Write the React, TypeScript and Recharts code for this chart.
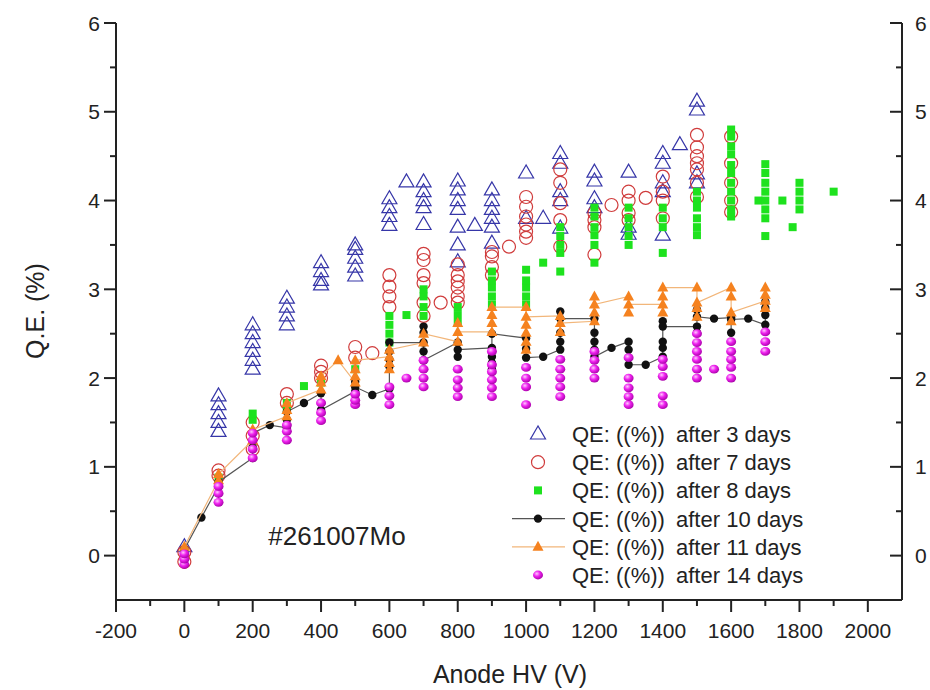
import { ScatterChart, Scatter, XAxis, YAxis, Legend } from 'recharts';

type Pt = [number, number];

// Anode HV (V), Q.E. (%); order inside a stack matters for the joined series
const days3: Pt[] = [
  [0, 0.1],
  [100, 1.4], [100, 1.5], [100, 1.6], [100, 1.7], [100, 1.8],
  [200, 2.1], [200, 2.2], [200, 2.3], [200, 2.4], [200, 2.5], [200, 2.6],
  [300, 2.6], [300, 2.7], [300, 2.8], [300, 2.9],
  [400, 3.05], [400, 3.1], [400, 3.2], [400, 3.3],
  [500, 3.15], [500, 3.25], [500, 3.35], [500, 3.45], [500, 3.5],
  [600, 3.72], [600, 3.82], [600, 3.92], [600, 4.02],
  [650, 4.21],
  [700, 3.73], [700, 3.92], [700, 4.0], [700, 4.1], [700, 4.21],
  [800, 3.31], [800, 3.5], [800, 3.7], [800, 3.9], [800, 4.0], [800, 4.12], [800, 4.22],
  [850, 3.72],
  [900, 3.52], [900, 3.7], [900, 3.8], [900, 3.9], [900, 4.0], [900, 4.12],
  [1000, 3.8], [1000, 4.31],
  [1050, 3.8],
  [1100, 3.69], [1100, 4.0], [1100, 4.1], [1100, 4.42], [1100, 4.53],
  [1200, 3.92], [1200, 4.02], [1200, 4.22], [1200, 4.32],
  [1300, 3.62], [1300, 3.7], [1300, 4.32],
  [1400, 3.61], [1400, 4.1], [1400, 4.2], [1400, 4.42], [1400, 4.53],
  [1450, 4.63],
  [1500, 4.2], [1500, 4.3], [1500, 5.02], [1500, 5.12],
];

const days7: Pt[] = [
  [0, -0.07], [0, 0.04],
  [100, 0.9], [100, 0.96],
  [200, 1.2], [200, 1.35], [200, 1.5],
  [300, 1.72], [300, 1.82],
  [400, 2.0], [400, 2.07], [400, 2.14],
  [500, 2.23], [500, 2.35],
  [550, 2.28],
  [600, 2.8], [600, 2.92], [600, 3.03], [600, 3.16],
  [700, 2.7], [700, 2.85], [700, 3.07], [700, 3.16], [700, 3.33], [700, 3.4],
  [750, 2.85],
  [800, 2.85], [800, 2.92], [800, 3.02], [800, 3.09], [800, 3.16], [800, 3.28],
  [900, 3.16], [900, 3.25], [900, 3.37], [900, 3.42],
  [950, 3.48],
  [1000, 3.58], [1000, 3.65], [1000, 3.73], [1000, 3.82], [1000, 3.93], [1000, 4.04],
  [1100, 3.48], [1100, 3.78], [1100, 3.97], [1100, 4.2], [1100, 4.35],
  [1200, 3.39], [1200, 3.7], [1200, 3.78], [1200, 3.86],
  [1250, 3.95],
  [1300, 3.78], [1300, 3.86], [1300, 4.0], [1300, 4.1],
  [1350, 4.03],
  [1400, 3.8], [1400, 4.0], [1400, 4.1], [1400, 4.27],
  [1500, 4.04], [1500, 4.2], [1500, 4.35], [1500, 4.42], [1500, 4.5], [1500, 4.6], [1500, 4.74],
  [1600, 3.87], [1600, 4.0], [1600, 4.2], [1600, 4.42], [1600, 4.72],
];

const days8: Pt[] = [
  [0, 0.05],
  [100, 0.88],
  [200, 1.53], [200, 1.6],
  [300, 1.65], [300, 1.72],
  [350, 1.91],
  [400, 1.95],
  [500, 2.1],
  [600, 2.4], [600, 2.5], [600, 2.6], [600, 2.7],
  [650, 2.71],
  [700, 2.7], [700, 2.8], [700, 2.92], [700, 3.0],
  [800, 2.62], [800, 2.71], [800, 2.8],
  [900, 2.83], [900, 2.92], [900, 3.02], [900, 3.1], [900, 3.2],
  [1000, 2.83], [1000, 2.92], [1000, 3.02], [1000, 3.1], [1000, 3.22],
  [1050, 3.3],
  [1100, 3.2], [1100, 3.41], [1100, 3.5], [1100, 3.6], [1100, 3.7],
  [1200, 3.3], [1200, 3.5], [1200, 3.61], [1200, 3.7], [1200, 3.82], [1200, 3.92],
  [1300, 3.5], [1300, 3.6], [1300, 3.7], [1300, 3.8], [1300, 3.92],
  [1400, 3.41], [1400, 3.7], [1400, 3.8], [1400, 3.92],
  [1500, 3.61], [1500, 3.7], [1500, 3.8], [1500, 3.92], [1500, 4.0], [1500, 4.1],
  [1600, 3.82], [1600, 3.9], [1600, 4.0], [1600, 4.1], [1600, 4.2], [1600, 4.31],
  [1600, 4.4], [1600, 4.52], [1600, 4.61], [1600, 4.72], [1600, 4.8],
  [1680, 4.0],
  [1700, 3.6], [1700, 3.8], [1700, 3.9], [1700, 4.0], [1700, 4.1], [1700, 4.2], [1700, 4.31], [1700, 4.41],
  [1750, 4.0],
  [1780, 3.7],
  [1800, 3.9], [1800, 4.0], [1800, 4.1], [1800, 4.2],
  [1900, 4.1],
];

const days10: Pt[] = [
  [0, 0.02], [0, 0.07],
  [50, 0.43],
  [100, 0.78], [100, 0.83],
  [200, 1.1], [200, 1.22], [200, 1.38],
  [250, 1.47],
  [300, 1.44], [300, 1.53], [300, 1.62],
  [350, 1.72],
  [400, 1.83], [400, 1.72], [400, 1.64],
  [500, 1.85], [500, 1.96], [500, 1.9],
  [550, 1.81],
  [600, 1.88], [600, 2.13], [600, 2.21], [600, 2.3], [600, 2.4],
  [700, 2.4], [700, 2.51], [700, 2.58], [700, 2.3], [700, 2.2],
  [800, 2.4], [800, 2.24], [800, 2.32],
  [900, 2.34], [900, 2.1], [900, 2.17], [900, 2.24], [900, 2.5],
  [1000, 2.45], [1000, 2.33], [1000, 2.23],
  [1050, 2.24],
  [1100, 2.32], [1100, 2.41], [1100, 2.51], [1100, 2.75], [1100, 2.67],
  [1200, 2.67], [1200, 2.51], [1200, 2.41], [1200, 2.32], [1200, 2.24],
  [1250, 2.34],
  [1300, 2.41], [1300, 2.32], [1300, 2.23], [1300, 2.15],
  [1350, 2.15],
  [1400, 2.24], [1400, 2.34], [1400, 2.41], [1400, 2.64], [1400, 2.58],
  [1500, 2.58], [1500, 2.51], [1500, 2.77], [1500, 2.69],
  [1550, 2.67],
  [1600, 2.68], [1600, 2.51], [1600, 2.66],
  [1650, 2.67],
  [1700, 2.6], [1700, 2.71], [1700, 2.79], [1700, 2.86],
];

const days11: Pt[] = [
  [0, 0.1],
  [100, 0.85], [100, 0.92],
  [200, 1.3], [200, 1.42],
  [300, 1.57], [300, 1.64], [300, 1.72],
  [400, 1.87], [400, 1.95], [400, 2.02],
  [450, 2.2],
  [500, 1.95], [500, 2.02], [500, 2.1], [500, 2.2],
  [600, 2.24], [600, 2.1], [600, 2.17], [600, 2.32],
  [700, 2.4], [700, 2.5],
  [800, 2.41], [800, 2.62], [800, 2.52],
  [900, 2.52], [900, 2.71], [900, 2.62], [900, 2.8],
  [1000, 2.8], [1000, 2.32], [1000, 2.41], [1000, 2.51], [1000, 2.6], [1000, 2.69],
  [1100, 2.7], [1100, 2.52], [1100, 2.62],
  [1200, 2.64], [1200, 2.92], [1200, 2.74], [1200, 2.83],
  [1300, 2.92], [1300, 2.74], [1300, 2.83],
  [1400, 2.83], [1400, 2.74], [1400, 2.92], [1400, 3.02],
  [1500, 3.02], [1500, 2.69], [1500, 2.79], [1500, 2.85],
  [1600, 3.02], [1600, 2.92], [1600, 2.64], [1600, 2.74],
  [1700, 2.87], [1700, 2.79], [1700, 2.94], [1700, 3.02],
];

const days14: Pt[] = [
  [0, -0.1], [0, -0.04], [0, 0.02],
  [100, 0.6], [100, 0.7], [100, 0.78],
  [200, 1.1], [200, 1.2], [200, 1.3], [200, 1.38],
  [300, 1.3], [300, 1.4], [300, 1.47],
  [400, 1.52], [400, 1.61], [400, 1.72],
  [500, 1.7], [500, 1.75], [500, 1.82],
  [600, 1.7], [600, 1.8], [600, 1.9],
  [650, 2.0],
  [700, 1.9], [700, 2.0], [700, 2.1], [700, 2.2],
  [800, 1.79], [800, 1.89], [800, 1.98], [800, 2.1],
  [900, 1.79], [900, 1.89], [900, 1.98], [900, 2.07], [900, 2.15], [900, 2.3],
  [1000, 1.7], [1000, 1.9], [1000, 2.0], [1000, 2.12],
  [1100, 1.79], [1100, 1.9], [1100, 2.0], [1100, 2.1], [1100, 2.21],
  [1200, 2.0], [1200, 2.1], [1200, 2.2], [1200, 2.3],
  [1300, 1.7], [1300, 1.79], [1300, 1.89], [1300, 2.0], [1300, 2.23],
  [1400, 1.7], [1400, 1.8], [1400, 2.02], [1400, 2.13], [1400, 2.21],
  [1500, 2.0], [1500, 2.1], [1500, 2.21], [1500, 2.3], [1500, 2.4], [1500, 2.5],
  [1550, 2.1],
  [1600, 2.0], [1600, 2.12], [1600, 2.21], [1600, 2.3], [1600, 2.41],
  [1700, 2.3], [1700, 2.41], [1700, 2.52],
];

const xTicks = [-200, -100, 0, 100, 200, 300, 400, 500, 600, 700, 800, 900, 1000,
  1100, 1200, 1300, 1400, 1500, 1600, 1700, 1800, 1900, 2000];
const yTicks = [0, 0.5, 1, 1.5, 2, 2.5, 3, 3.5, 4, 4.5, 5, 5.5, 6];

const font = "'Liberation Sans', Arial, Helvetica, sans-serif";
const INK = '#222';
const BLUE = '#3636a8';
const RED = '#d03c3c';
const GREEN = '#1ee21e';
const ORANGE = '#f5821f';

const rows = (pts: Pt[]) => pts.map(([hv, qe]) => ({ hv, qe }));

const OpenTriangle = ({ cx, cy }: any) => (
  <polygon points={`${cx},${cy - 8} ${cx - 7.5},${cy + 5} ${cx + 7.5},${cy + 5}`}
    fill="none" stroke={BLUE} strokeWidth={1.2} />
);
const OpenCircle = ({ cx, cy }: any) => (
  <circle cx={cx} cy={cy} r={6.5} fill="none" stroke={RED} strokeWidth={1.2} />
);
const GreenSquare = ({ cx, cy }: any) => (
  <rect x={cx - 4} y={cy - 4} width={8} height={8} fill={GREEN} />
);
const BlackDot = ({ cx, cy }: any) => <circle cx={cx} cy={cy} r={4.2} fill="#111" />;
const OrangeTriangle = ({ cx, cy }: any) => (
  <polygon points={`${cx},${cy - 6} ${cx - 5.5},${cy + 4} ${cx + 5.5},${cy + 4}`} fill={ORANGE} />
);
const Sphere = ({ cx, cy }: any) => (
  <ellipse cx={cx} cy={cy} rx={5} ry={4.4} fill="url(#sphere)" />
);

const series = [
  { days: 3, data: days3, Shape: OpenTriangle },
  { days: 7, data: days7, Shape: OpenCircle },
  { days: 8, data: days8, Shape: GreenSquare },
  { days: 10, data: days10, Shape: BlackDot, line: '#555' },
  { days: 11, data: days11, Shape: OrangeTriangle, line: '#f2b67a' },
  { days: 14, data: days14, Shape: Sphere },
];

function BottomTick({ x, y, payload }: any) {
  const major = payload.value % 200 === 0;
  return (
    <g>
      <line x1={x} x2={x} y1={y} y2={y + (major ? 12 : 6)} stroke={INK} strokeWidth={2} />
      {major && (
        <text x={x} y={y + 38} textAnchor="middle" fontSize={21} fontFamily={font} fill={INK}>
          {payload.value}
        </text>
      )}
    </g>
  );
}

function TopTick({ x, y, payload }: any) {
  const major = payload.value % 200 === 0;
  return <line x1={x} x2={x} y1={y} y2={y + (major ? 12 : 7)} stroke={INK} strokeWidth={2} />;
}

function LeftTick({ x, y, payload }: any) {
  const major = Number.isInteger(payload.value);
  return (
    <g>
      <line x1={x} x2={x - (major ? 12 : 6)} y1={y} y2={y} stroke={INK} strokeWidth={2} />
      {major && (
        <text x={x - 16} y={y} dy="0.36em" textAnchor="end" fontSize={21} fontFamily={font} fill={INK}>
          {payload.value}
        </text>
      )}
    </g>
  );
}

function RightTick({ x, y, payload }: any) {
  const major = Number.isInteger(payload.value);
  return (
    <g>
      <line x1={x} x2={x - (major ? 12 : 6)} y1={y} y2={y} stroke={INK} strokeWidth={2} />
      {major && (
        <text x={x + 13} y={y} dy="0.36em" textAnchor="start" fontSize={21} fontFamily={font} fill={INK}>
          {payload.value}
        </text>
      )}
    </g>
  );
}

function LegendBox() {
  return (
    <svg width={340} height={180} style={{ display: 'block' }}>
      {series.map((s, i) => {
        const cy = 16 + i * 28.2;
        return (
          <g key={s.days}>
            {s.line && <line x1={12} x2={65} y1={cy} y2={cy} stroke={s.line} strokeWidth={1.2} />}
            <s.Shape cx={38} cy={cy} />
            <text x={72} y={cy + 8} fontSize={22} fontFamily={font} fill={INK}>QE: ((%))</text>
            <text x={176} y={cy + 8} fontSize={22} fontFamily={font} fill={INK}>after {s.days} days</text>
          </g>
        );
      })}
    </svg>
  );
}

export default function App() {
  return (
    <div style={{ position: 'absolute', left: 0, top: 0, width: 930, height: 690, background: '#fff' }}>
      <ScatterChart width={930} height={690} margin={{ top: 23, right: 0, bottom: 40, left: 56 }}>
        <defs>
          <radialGradient id="sphere" cx="38%" cy="35%" r="70%">
            <stop offset="0%" stopColor="#ffc8ff" />
            <stop offset="45%" stopColor="#ee22ee" />
            <stop offset="100%" stopColor="#a400a4" />
          </radialGradient>
        </defs>
        <XAxis xAxisId="b" dataKey="hv" type="number" domain={[-200, 2100]} ticks={xTicks}
          interval={0} allowDataOverflow height={50} tickSize={0} tickMargin={0} tickLine={false}
          axisLine={{ stroke: INK, strokeWidth: 2 }} tick={<BottomTick />} />
        <XAxis xAxisId="t" orientation="top" type="number" domain={[-200, 2100]} ticks={xTicks}
          interval={0} allowDataOverflow height={0} tickSize={0} tickMargin={0} tickLine={false}
          axisLine={{ stroke: INK, strokeWidth: 2 }} tick={<TopTick />} />
        <YAxis yAxisId="l" dataKey="qe" type="number" domain={[-0.5, 6]} ticks={yTicks}
          interval={0} allowDataOverflow width={60} tickSize={0} tickMargin={0} tickLine={false}
          axisLine={{ stroke: INK, strokeWidth: 2 }} tick={<LeftTick />} />
        <YAxis yAxisId="r" orientation="right" type="number" domain={[-0.5, 6]} ticks={yTicks}
          interval={0} allowDataOverflow width={28} tickSize={0} tickMargin={0} tickLine={false}
          axisLine={{ stroke: INK, strokeWidth: 2 }} tick={<RightTick />} />
        {series.map((s) => (
          <Scatter key={s.days} name={`QE: ((%)) after ${s.days} days`} xAxisId="b" yAxisId="l"
            data={rows(s.data)} shape={s.Shape} isAnimationActive={false}
            line={s.line ? { stroke: s.line, strokeWidth: 1.2 } : false} />
        ))}
        <Legend layout="vertical" align="center" verticalAlign="middle" content={() => <LegendBox />}
          wrapperStyle={{ left: 500, top: 418, width: 340, height: 180 }} />
        <text x={337} y={545} textAnchor="middle" fontSize={26} fontFamily={font} fill={INK}>#261007Mo</text>
        <text x={510} y={683} textAnchor="middle" fontSize={25} fontFamily={font} fill={INK}>Anode HV (V)</text>
        <text x={44} y={311} textAnchor="middle" fontSize={25} fontFamily={font} fill={INK}
          transform="rotate(-90 44 311)">Q.E. (%)</text>
      </ScatterChart>
    </div>
  );
}
